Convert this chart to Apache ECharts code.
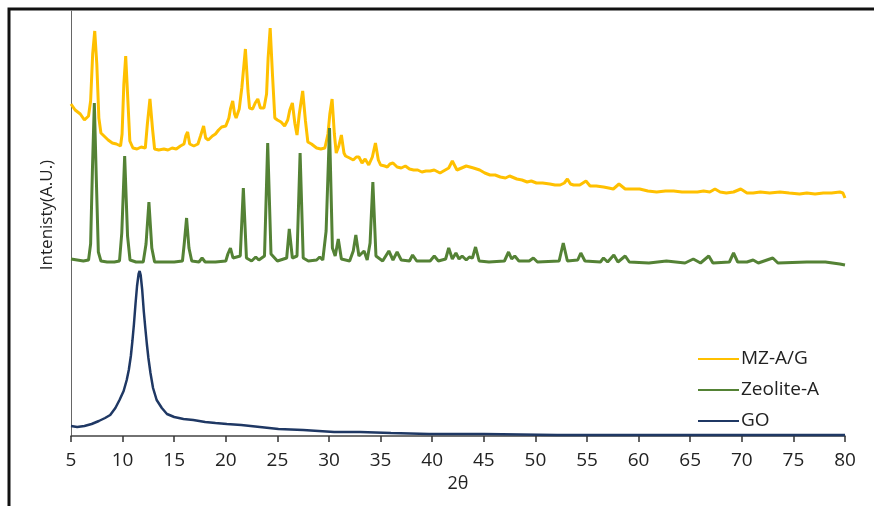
<!DOCTYPE html>
<html>
<head>
<meta charset="utf-8">
<script src="https://cdn.jsdelivr.net/npm/echarts@6/dist/echarts.min.js"></script>
<style>
html,body{margin:0;padding:0;background:#fff;}
#chart{width:874px;height:506px;}
</style>
</head>
<body>
<div id="chart"></div>
<script>
// 2theta / intensity pairs (arbitrary units, offset stacked)
var mzag=[[5.0,332],[5.4,326],[5.9,322],[6.3,316],[6.7,320],[6.9,335],[7.1,382],[7.3,405],[7.5,372],[7.7,318],[7.9,303],
[8.2,300],[8.6,296],[9.0,293],[9.4,292],[9.8,290],[9.95,302],[10.12,352],[10.3,380],[10.48,342],[10.7,295],[11.0,288],
[11.4,287],[11.8,289],[12.2,288],[12.4,312],[12.65,337],[12.9,307],[13.1,287],[13.5,286],[14.0,287],[14.4,286],[14.8,288],
[15.2,287],[15.6,290],[15.95,292],[16.12,300],[16.3,304],[16.5,292],[16.9,290],[17.3,292],[17.55,300],[17.85,310],[18.05,298],
[18.3,296],[18.7,300],[19.0,302],[19.3,306],[19.6,309],[20.0,310],[20.3,318],[20.45,327],[20.67,335],[20.85,322],[21.0,318],
[21.3,327],[21.55,348],[21.9,387],[22.15,345],[22.3,328],[22.6,327],[22.85,333],[23.1,337],[23.35,328],[23.7,328],[23.95,342],
[24.1,378],[24.3,408],[24.52,362],[24.75,318],[25.0,316],[25.35,314],[25.7,310],[26.0,316],[26.2,326],[26.45,333],[26.7,312],
[26.9,301],[27.12,322],[27.45,345],[27.72,315],[27.95,294],[28.3,292],[28.8,288],[29.2,287],[29.6,288],[29.9,302],[30.08,322],
[30.3,337],[30.52,302],[30.7,283],[30.95,290],[31.2,301],[31.45,283],[31.6,280],[32.0,278],[32.35,276],[32.65,279],[32.9,279],
[33.2,273],[33.5,277],[33.85,271],[34.2,279],[34.5,293],[34.78,276],[35.0,271],[35.4,270],[35.65,269],[35.9,272],[36.2,273],
[36.6,269],[37.0,268],[37.4,270],[37.8,267],[38.2,266],[38.6,266],[39.0,264],[39.4,265],[39.8,265],[40.2,266],[40.76,263],
[41.6,268],[41.95,275],[42.4,266],[43.3,270],[44.0,268],[44.6,266],[45.1,263],[45.6,261],[46.1,261],[46.6,259],[47.1,258],
[47.5,260],[48.2,257],[48.7,256],[49.2,254],[49.6,255],[50.1,253],[50.7,253],[51.4,252],[51.9,251],[52.4,251],[52.8,253],
[53.1,257],[53.4,252],[53.7,251],[54.3,251],[54.9,255],[55.3,250],[55.9,250],[56.6,249],[57.1,248],[57.55,247],[58.1,252],
[58.7,247],[59.4,247],[60.1,247],[60.9,245],[61.75,244],[62.6,245],[63.4,245],[64.2,244],[65.0,244],[65.7,244],[66.3,245],
[66.9,244],[67.4,247],[67.9,244],[68.5,243],[69.2,244],[69.9,247],[70.5,243],[71.1,243],[71.8,244],[72.7,243],[73.7,244],
[74.6,243],[75.6,242],[76.3,243],[77.1,242],[77.9,243],[78.7,243],[79.5,244],[79.8,243],[80.0,238]];

var zeolite=[[5.0,177],[5.6,176],[6.2,175],[6.7,176],[6.9,192],[7.08,268],[7.26,333],[7.44,262],[7.65,184],[7.9,175],[8.5,174],
[9.2,174],[9.7,175],[9.92,203],[10.2,280],[10.48,200],[10.72,176],[11.3,174],[12.0,174],[12.27,192],[12.55,234],[12.83,188],
[13.1,174],[14.0,174],[15.0,174],[15.8,175],[15.97,192],[16.2,218],[16.43,188],[16.7,175],[17.4,174],[17.7,178],[18.0,174],
[19.0,174],[20.0,175],[20.2,182],[20.45,188],[20.7,178],[21.4,180],[21.7,248],[22.0,178],[22.5,175],[22.9,179],[23.2,176],
[23.75,180],[24.06,293],[24.38,182],[25.0,175],[25.9,178],[26.15,207],[26.45,178],[26.9,180],[27.2,283],[27.5,178],[28.0,175],
[28.8,176],[29.1,179],[29.4,176],[29.72,205],[30.05,308],[30.33,188],[30.6,180],[30.9,197],[31.2,177],[32.0,175],[32.35,185],
[32.6,201],[32.9,180],[33.4,185],[33.7,176],[33.98,193],[34.25,254],[34.55,180],[35.2,175],[35.8,185],[36.2,176],[36.6,184],
[37.0,176],[37.8,175],[38.1,181],[38.5,175],[39.8,175],[40.2,180],[40.6,175],[41.3,177],[41.6,188],[41.95,177],[42.3,183],
[42.6,177],[42.9,180],[43.3,176],[43.6,179],[43.9,178],[44.2,189],[44.55,175],[45.5,174],[47.0,175],[47.4,184],[47.7,177],
[48.0,180],[48.4,175],[49.4,175],[49.8,178],[50.2,174],[52.3,175],[52.7,193],[53.1,175],[54.1,176],[54.4,183],[54.8,175],
[56.3,174],[56.6,178],[57.0,174],[57.6,181],[58.0,174],[58.7,180],[59.1,174],[61.0,173],[62.7,175],[64.5,173],[65.3,177],
[66.0,173],[66.8,180],[67.2,173],[68.8,174],[69.2,183],[69.6,174],[70.5,174],[71.1,176],[71.6,173],[73.0,178],[73.5,173],
[76.3,174],[78.1,174],[79.5,172],[80.0,171]];

var go=[[5.0,10],[5.6,9],[6.3,10],[7.0,12],[7.7,15],[8.3,18],[8.8,21],[9.3,28],[9.7,36],[10.1,45],[10.4,56],[10.6,66],[10.8,80],
[10.95,95],[11.1,112],[11.25,132],[11.4,150],[11.55,162],[11.65,165],[11.75,161],[11.9,146],[12.05,125],[12.2,108],[12.35,92],
[12.5,78],[12.7,63],[12.95,48],[13.3,36],[13.8,28],[14.3,22],[15.0,19],[15.9,17],[16.85,16],[18.0,14],[19.0,13],[20.1,12],
[21.5,11],[23.3,9],[25.1,7],[27.5,6],[30.5,4],[33.0,4],[36.0,3],[39.7,2],[45.0,2],[52.1,1],[60.0,1],[70.0,1],[80.0,1]];

var xTicks={min:5,max:80,step:5};
var names=['MZ-A/G','Zeolite-A','GO'];
var colors=['#FFC000','#548235','#1F3864'];

var myChart=echarts.init(document.getElementById('chart'),null,{renderer:'canvas'});
var font='"Open Sans", "Noto Sans", sans-serif';

myChart.setOption({
  animation:false,
  backgroundColor:'#fff',
  graphic:[{
    type:'rect',
    shape:{x:9,y:9,width:900,height:540},
    style:{fill:'none',stroke:'#111',lineWidth:3},
    silent:true
  },{
    type:'text',x:47,y:215,rotation:Math.PI/2,silent:true,
    style:{text:'Intenisty(A.U.)',fontFamily:font,fontSize:17,fill:'#222',align:'center',verticalAlign:'middle'}
  }],
  grid:{left:71,right:29,top:11,bottom:70},
  legend:{
    orient:'vertical',left:693,top:342,
    icon:'rect',itemWidth:41,itemHeight:2,itemGap:7,
    data:names,
    textStyle:{fontFamily:font,fontSize:19,color:'#222',lineHeight:24,padding:[0,0,0,-3]}
  },
  xAxis:{
    type:'value',min:xTicks.min,max:xTicks.max,interval:xTicks.step,
    name:'2θ',nameLocation:'middle',nameGap:38,
    nameTextStyle:{fontFamily:font,fontSize:18,color:'#222'},
    axisLine:{lineStyle:{color:'#444',width:1.5}},
    axisTick:{length:6,lineStyle:{color:'#333',width:1.5}},
    axisLabel:{fontFamily:font,fontSize:19,color:'#222',margin:15},
    splitLine:{show:false}
  },
  yAxis:{
    type:'value',min:0,max:425,
    axisLine:{show:true,lineStyle:{color:'#666',width:1}},
    axisTick:{show:false},axisLabel:{show:false},splitLine:{show:false}
  },
  series:[
    {name:names[0],type:'line',data:mzag,symbol:'none',lineStyle:{color:colors[0],width:3},itemStyle:{color:colors[0]}},
    {name:names[1],type:'line',data:zeolite,symbol:'none',lineStyle:{color:colors[1],width:3},itemStyle:{color:colors[1]}},
    {name:names[2],type:'line',data:go,symbol:'none',lineStyle:{color:colors[2],width:2.5},itemStyle:{color:colors[2]}}
  ]
});
</script>
</body>
</html>
